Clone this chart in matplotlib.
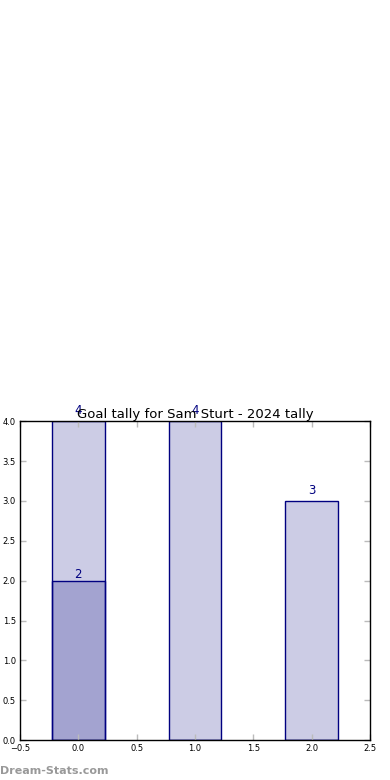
import matplotlib
matplotlib.use("Agg")
import matplotlib.pyplot as plt

# data
positions = [0, 1, 2]
totals = [4, 4, 3]
partial = [2, 0, 0]
title = "Goal tally for Sam Sturt - 2024 tally"

fig = plt.figure(figsize=(3.9, 7.8), dpi=100)
ax = fig.add_axes([0.051, 0.051, 0.898, 0.409])

ax.bar(positions, totals, width=0.45, color="navy", alpha=0.2, edgecolor="none")
ax.bar(positions, totals, width=0.45, facecolor="none", edgecolor="navy", linewidth=1)
ax.bar(positions, partial, width=0.45, color="navy", alpha=0.2, edgecolor="none")
ax.bar(positions, partial, width=0.45, facecolor="none", edgecolor="navy", linewidth=1)

for x, h in zip(positions, totals):
    ax.text(x, h + 0.05, str(h), ha="center", va="bottom", color="navy", fontsize=8.5)
for x, h in zip(positions, partial):
    if h > 0:
        ax.text(x, h, str(h), ha="center", va="bottom", color="navy", fontsize=8.5)

ax.set_xlim(-0.5, 2.5)
ax.set_ylim(0, 4)
ax.set_xticks([-0.5, 0, 0.5, 1, 1.5, 2, 2.5])
ax.set_yticks([0, 0.5, 1, 1.5, 2, 2.5, 3, 3.5, 4])
ax.tick_params(direction="in", length=4, width=1, color="#bbbbbb", labelsize=6,
               top=True, right=True, pad=3)
for s in ax.spines.values():
    s.set_linewidth(1)
ax.set_title(title, fontsize=9.5, pad=2)

fig.text(0.0, 0.008, "Dream-Stats.com", color="#999999", fontsize=8, fontweight="bold")

fig.savefig("out.png", dpi=100)
